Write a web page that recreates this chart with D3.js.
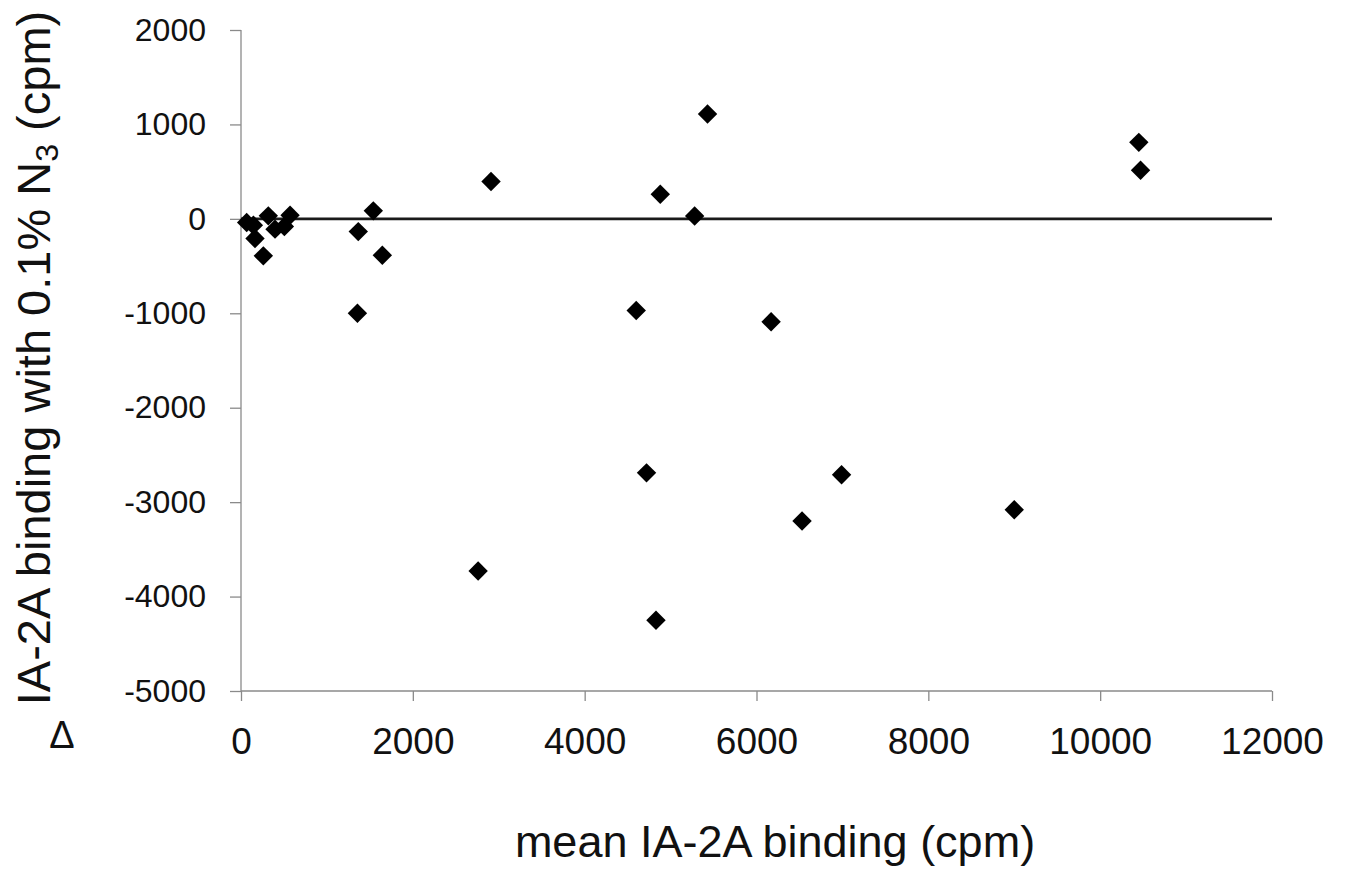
<!DOCTYPE html>
<html>
<head>
<meta charset="utf-8">
<script src="https://cdn.jsdelivr.net/npm/d3@7"></script>
<style>
body { margin: 0; background: #fff; }
svg text { font-family: "Liberation Sans", Arial, sans-serif; fill: #111; }
</style>
</head>
<body>
<div id="chart"></div>
<script>
// mean binding (x) and delta binding (y)
var meanBinding = [66, 144, 163, 260, 318, 396, 505, 571,
    1355, 1365, 1540, 1645, 2760, 2910, 4600, 4720, 4830, 4880,
    5280, 5430, 6170, 6530, 6990, 9000, 10450, 10470];
var deltaBinding = [-39, -67, -208, -392, 32, -109, -81, 39,
    -1000, -135, 85, -385, -3730, 395, -970, -2690, -4250, 260,
    30, 1110, -1090, -3200, -2710, -3080, 810, 515];
var xTicks = [0, 2000, 4000, 6000, 8000, 10000, 12000];
var yTicks = [2000, 1000, 0, -1000, -2000, -3000, -4000, -5000];
var zeroLineX = [0, 12000];
var zeroLineY = [0, 0];

var margin = { top: 30, right: 75, bottom: 180, left: 241 },
    width = 1347 - margin.left - margin.right,
    height = 871 - margin.top - margin.bottom;

var svg = d3.select("#chart")
    .append("svg")
    .attr("width", 1347)
    .attr("height", 871);

var g = svg.append("g").attr("transform", "translate(" + margin.left + "," + margin.top + ")");

var x = d3.scaleLinear().domain([0, 12000]).range([0, width]),
    y = d3.scaleLinear().domain([-5000, 2000]).range([height, 0]);

var fmt = function (d) { return String(d); };

// axes
var xAxis = g.append("g")
    .attr("transform", "translate(0," + height + ")")
    .call(d3.axisBottom(x).tickValues(xTicks).tickSize(10).tickPadding(27).tickFormat(fmt));
var yAxis = g.append("g")
    .call(d3.axisLeft(y).tickValues(yTicks).tickSize(11).tickPadding(24).tickFormat(fmt));

[xAxis, yAxis].forEach(function (a) {
    a.selectAll("path, line").attr("stroke", "#8a8a8a").attr("stroke-width", 1.3);
    a.select(".domain").attr("d", null);
    a.selectAll("text").attr("fill", "#111");
});
yAxis.selectAll("text").style("font-size", "32px");
xAxis.selectAll("text").style("font-size", "37px");
xAxis.append("line").attr("x1", 0).attr("x2", width).attr("stroke", "#8a8a8a").attr("stroke-width", 1.3);
yAxis.append("line").attr("y1", 0).attr("y2", height).attr("stroke", "#8a8a8a").attr("stroke-width", 1.3);

// zero line
var line = d3.line()
    .x(function (d) { return x(d[0]); })
    .y(function (d) { return y(d[1]); });
g.append("path")
    .datum(d3.zip(zeroLineX, zeroLineY))
    .attr("fill", "none")
    .attr("stroke", "#1a1a1a")
    .attr("stroke-width", 2.6)
    .attr("d", line);

// points
var diamond = d3.symbol().type(d3.symbolDiamond2).size(240);
g.selectAll(".pt")
    .data(d3.zip(meanBinding, deltaBinding))
    .enter().append("path")
    .attr("class", "pt")
    .attr("transform", function (d) { return "translate(" + x(d[0]) + "," + y(d[1]) + ")"; })
    .attr("d", diamond)
    .attr("fill", "#000");

// titles
svg.append("text")
    .attr("x", 775)
    .attr("y", 857)
    .attr("text-anchor", "middle")
    .style("font-size", "45px")
    .text("mean IA-2A binding (cpm)");

var yt = svg.append("text")
    .attr("transform", "translate(50,358) rotate(-90)")
    .attr("text-anchor", "middle")
    .style("font-size", "47px");
yt.append("tspan").text("IA-2A binding with 0.1% N");
yt.append("tspan").attr("baseline-shift", "-8").style("font-size", "32px").text("3");
yt.append("tspan").text(" (cpm)");

svg.append("text")
    .attr("x", 62)
    .attr("y", 748)
    .attr("text-anchor", "middle")
    .style("font-size", "38px")
    .text("\u0394");
</script>
</body>
</html>
